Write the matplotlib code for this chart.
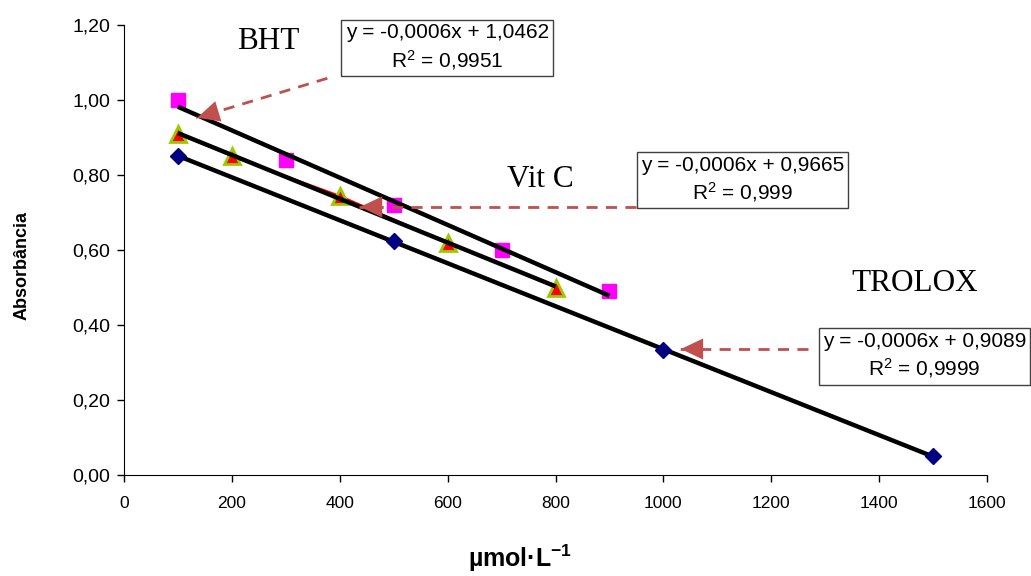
import numpy as np
import matplotlib
matplotlib.use("Agg")
import matplotlib.pyplot as plt
from matplotlib.ticker import FuncFormatter

plt.rcParams['font.family'] = 'Liberation Sans'
plt.rcParams['mathtext.fontset'] = 'custom'
plt.rcParams['mathtext.rm'] = 'Liberation Sans'
plt.rcParams['mathtext.it'] = 'Liberation Sans:italic'
plt.rcParams['mathtext.bf'] = 'Liberation Sans:bold'

# dados
bht_x = [100, 300, 500, 700, 900]
bht_y = [1.00, 0.84, 0.72, 0.60, 0.49]
vitc_x = [100, 200, 400, 600, 800]
vitc_y = [0.91, 0.85, 0.745, 0.62, 0.50]
trolox_x = [100, 500, 1000, 1500]
trolox_y = [0.85, 0.625, 0.333, 0.05]

eq_bht = "y = -0,0006x + 1,0462\nR$^2$ = 0,9951"
eq_vitc = "y = -0,0006x + 0,9665\nR$^2$ = 0,999"
eq_trolox = "y = -0,0006x + 0,9089\nR$^2$ = 0,9999"

fig = plt.figure(figsize=(10.31, 5.76), dpi=100)
ax = fig.add_axes([0.1203, 0.1753, 0.837, 0.78125])

# linhas de tendencia (regressao linear)
for xs, ys in [(bht_x, bht_y), (vitc_x, vitc_y), (trolox_x, trolox_y)]:
    a, b = np.polyfit(xs, ys, 1)
    xx = np.array([min(xs), max(xs)])
    ax.plot(xx, a * xx + b, color='black', lw=3.2, zorder=4, solid_capstyle='butt')

ax.plot(vitc_x, vitc_y, color='red', lw=1.2, zorder=2)
ax.plot(bht_x, bht_y, ls='none', marker='s', ms=10, color='#FF00FF', zorder=3)
ax.plot(vitc_x, vitc_y, ls='none', marker='^', ms=11, mfc='red', mec='#99CC00', mew=2, zorder=3)
ax.plot(trolox_x, trolox_y, ls='none', marker='D', ms=8, color='#000080', zorder=5)

ax.set_xlim(0, 1600)
ax.set_ylim(0, 1.2)
ax.set_xticks(np.arange(0, 1601, 200))
ax.set_yticks(np.arange(0, 1.21, 0.2))
ax.yaxis.set_major_formatter(FuncFormatter(lambda v, p: f"{v:.2f}".replace('.', ',')))
ax.tick_params(direction='out', length=5, width=1)
ax.tick_params(axis='y', labelsize=14, pad=5)
ax.tick_params(axis='x', labelsize=12.5, pad=10)
for s in ['top', 'right']:
    ax.spines[s].set_visible(False)

fig.text(22 / 1031, 1 - 265 / 576, 'Absorbância', fontsize=13, fontweight='bold',
         rotation=90, ha='center', va='center')
fig.text(520 / 1031, 9 / 576, 'µmol·L$^{\\mathbf{-1}}$', fontsize=18, fontweight='bold',
         ha='center', va='baseline')

# nomes
serif = 'Liberation Serif'
ax.text(267, 1.155, 'BHT', family=serif, fontsize=22.5, ha='center', va='center')
ax.text(772, 0.787, 'Vit C', family=serif, fontsize=22.5, ha='center', va='center')
ax.text(1467, 0.511, 'TROLOX', family=serif, fontsize=22.5, ha='center', va='center')

box = dict(boxstyle='square,pad=0.2', fc='white', ec='#404040', lw=1)
ax.text(599, 1.14, eq_bht, fontsize=15, ha='center', va='center', ma='center', bbox=box, linespacing=1.3, zorder=6)
ax.text(1147, 0.787, eq_vitc, fontsize=15, ha='center', va='center', ma='center', bbox=box, linespacing=1.3, zorder=6)
ax.text(1484, 0.317, eq_trolox, fontsize=15, ha='center', va='center', ma='center', bbox=box, linespacing=1.3, clip_on=False, zorder=6)

# setas tracejadas
ac = '#C0504D'
arrows = [((377, 1.058), (134, 0.952)), ((950, 0.715), (436, 0.715)), ((1269, 0.336), (1031, 0.336))]
for (x0, y0), (x1, y1) in arrows:
    ax.plot([x0, x1], [y0, y1], color=ac, lw=2, ls=(0, (4, 3)), zorder=7)
    ax.annotate('', xy=(x1, y1), xytext=(x0, y0),
                arrowprops=dict(arrowstyle='-|>,head_length=0.8,head_width=0.38', mutation_scale=20,
                                color=ac, lw=0.5, linestyle='none', shrinkA=0, shrinkB=0), zorder=8)

fig.savefig('out.png', dpi=100)
